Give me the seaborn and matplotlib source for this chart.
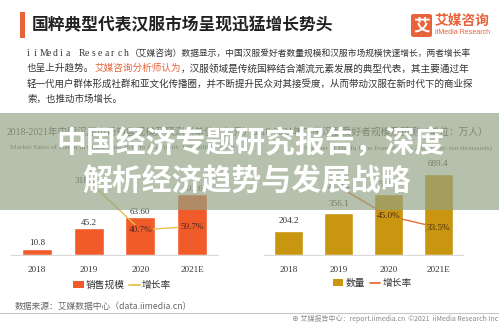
import matplotlib
matplotlib.use("Agg")
import matplotlib.pyplot as plt
import seaborn as sns
from matplotlib.patches import Rectangle, Patch, FancyBboxPatch
from matplotlib.lines import Line2D

# ---------------- data ----------------
years = ["2018", "2019", "2020", "2021E"]
sales = [10.8, 45.2, 63.6, 101.6]
sales_text = ["10.8", "45.2", "63.60", "101.6"]
sales_growth = [318.5, 40.7, 59.7]          # 2019..2021E
fans = [204.2, 356.1, 516.3, 689.4]
fans_text = ["204.2", "356.1", "516.3", "689.4"]
fans_growth = [74.4, 45.0, 33.5]            # 2019..2021E
growth_years = [1, 2, 3]

header_title = "国粹典型代表汉服市场呈现迅猛增长势头"
para_lines = [
    "（艾媒咨询）数据显示，中国汉服爱好者数量规模和汉服市场规模快速增长，两者增长率",
    "汉服领域是传统国粹结合潮流元素发展的典型代表，其主要通过年",
    "轻一代用户群体形成社群和亚文化传播圈，并不断提升民众对其接受度，从而带动汉服在新时代下的商业探",
    "索，也推动市场增长。",
]
left_title = "2018-2021年中国汉服市场销售规模及预测（单位：亿元）"
left_sub = "Market Sales of Hanfu in China from 2018 to 2021 (unit: 100 million yuan)"
right_title = "2018-2021年中国汉服爱好者规模及预测（单位：万人）"
right_sub = "Number of Hanfu Fans from 2018 to 2021 (unit: ten thousands)"
banner = ["中国经济专题研究报告，深度", "解析经济趋势与发展战略"]

# ---------------- style ----------------
sns.set_theme(style="white")
CJK = ["Noto Sans CJK SC", "DejaVu Sans"]
SERIF = ["Liberation Serif", "Noto Sans CJK SC"]
plt.rcParams["font.family"] = CJK

ORANGE = "#f15a29"
GOLD_LINE = "#e6c14c"
GOLD_BAR = "#c9960f"
RED_LINE = "#e07038"
BRAND = "#e8623a"

W, H = 499, 324
fig = plt.figure(figsize=(W / 100, H / 100), dpi=100)
fig.patch.set_facecolor("white")
rend = fig.canvas.get_renderer()


def fx(x):
    return x / W


def fy(y):
    return 1 - y / H


def px_axes(x0, y0, x1, y1):
    return fig.add_axes([fx(x0), fy(y1), (x1 - x0) / W, (y1 - y0) / H])


def fit_text(x0, x1, y, s, fs, **kw):
    t = fig.text(fx(x0), fy(y), s, fontsize=fs, va="center", ha="left", **kw)
    w = t.get_window_extent(renderer=rend).width
    t.set_fontsize(fs * (x1 - x0) / w)
    return t


# ---------------- header ----------------
fig.patches.append(Rectangle((fx(20), fy(38)), 5 / W, 26 / H, transform=fig.transFigure,
                             facecolor=BRAND, edgecolor="none"))
fit_text(32, 333, 25, header_title, 12, color="#222222", family=CJK, weight="bold")

# logo
fig.patches.append(FancyBboxPatch((fx(411), fy(37)), 21 / W, 23 / H, transform=fig.transFigure,
                                  boxstyle="round,pad=0,rounding_size=0.006",
                                  facecolor=BRAND, edgecolor="none"))
fig.text(fx(421.5), fy(25.5), "艾", fontsize=12, color="white", weight="bold",
         ha="center", va="center", family=CJK)
fit_text(435, 490, 21, "艾媒咨询", 9.8, color=BRAND, weight="bold", family=CJK)
fit_text(435, 490, 32.5, "iiMedia Research", 4.9, color=BRAND, family=["Liberation Sans"])

# paragraph
PFS = 6.9
PCOL = "#333333"
brand_word = "iiMedia Research"
for i, ch in enumerate(brand_word):
    fig.text(fx(27 + i * 6.45), fy(53), ch, fontsize=PFS, color=PCOL, va="center",
             ha="left", family=SERIF)
fit_text(130, 472, 53, para_lines[0], PFS, color=PCOL)
# line 2 with coloured segment (fit total width first)
probe = fig.text(0, 0, "也呈上升趋势。艾媒咨询分析师认为，" + para_lines[1], fontsize=PFS)
fs2 = PFS * (472 - 27) / probe.get_window_extent(renderer=rend).width
probe.remove()
segs = [("也呈上升趋势。", PCOL), ("艾媒咨询分析师认为", BRAND), ("，" + para_lines[1], PCOL)]
xcur = 27
for s, c in segs:
    t = fig.text(fx(xcur), fy(68.5), s, fontsize=fs2, color=c, va="center", ha="left")
    xcur += t.get_window_extent(renderer=rend).width
t3 = fit_text(27, 475, 84, para_lines[2], PFS, color=PCOL)
fig.text(fx(27), fy(99.5), para_lines[3], fontsize=t3.get_fontsize(), color=PCOL,
         va="center", ha="left")

# chart titles (under the banner)
fig.text(fx(7), fy(132), left_title, fontsize=7, color="#555555", va="center", ha="left",
         family=SERIF)
fig.text(fx(10), fy(147), left_sub, fontsize=5.3, color="#666666", va="center", ha="left",
         family=SERIF)
fig.text(fx(488), fy(132), right_title, fontsize=7, color="#555555", va="center", ha="right",
         family=SERIF)
fig.text(fx(492), fy(148), right_sub, fontsize=5.3, color="#666666", va="center", ha="right",
         family=SERIF)


# ---------------- charts ----------------
def draw_chart(x0, x1, values, vtexts, vcolor, ymax, vpad, growth, gcolor, glim, lcolor):
    ax = px_axes(x0, 165, x1, 255)
    sns.barplot(x=years, y=values, ax=ax, color=vcolor, saturation=1, width=0.58)
    ax.set_xlim(-0.5, 3.5)
    ax.set_ylim(0, ymax)
    ax.set_yticks([])
    ax.set_xlabel("")
    ax.set_ylabel("")
    for s in ["top", "left", "right"]:
        ax.spines[s].set_visible(False)
    ax.spines["bottom"].set_color("#d9d9d9")
    ax.spines["bottom"].set_linewidth(0.8)
    ax.tick_params(axis="x", length=0, pad=8, labelsize=6.6, labelcolor="#333333")
    for lab in ax.get_xticklabels():
        lab.set_family(SERIF)
    ax.patch.set_alpha(0)
    for i, (v, t) in enumerate(zip(values, vtexts)):
        ax.annotate(t, (i, v), xytext=(0, vpad), textcoords="offset points", ha="center",
                    va="bottom", fontsize=6.6, color="#333333", family=SERIF)
    ax2 = ax.twinx()
    sns.lineplot(x=growth_years, y=growth, ax=ax2, color=gcolor, linewidth=1.0)
    ax2.set_ylim(*glim)
    ax2.set_xlim(-0.5, 3.5)
    ax2.set_yticks([])
    ax2.set_ylabel("")
    for s in ax2.spines.values():
        s.set_visible(False)
    for k, (xi, g) in enumerate(zip(growth_years, growth)):
        inside = k > 0
        ax2.text(xi, g, f"{g:.1f}%", ha="center", va="center", fontsize=6.6,
                 color=lcolor if inside else "#333333", family=SERIF,
                 bbox=dict(facecolor=vcolor if inside else "white", edgecolor="none", pad=0.6))
    return ax


draw_chart(11, 218, sales, sales_text, ORANGE, 150, 0.8, sales_growth, GOLD_LINE,
           (-102, 409), "#4a2a1a")
draw_chart(264, 463, fans, fans_text, GOLD_BAR, 766, 4.0, fans_growth, RED_LINE,
           (6, 96), "#4a2a1a")

# legends
fig.legend(handles=[Patch(facecolor=ORANGE, edgecolor="none"),
                    Line2D([], [], color=GOLD_LINE, lw=1.3)],
           labels=["销售规模", "增长率"], loc="center", bbox_to_anchor=(fx(122), fy(285)),
           ncol=2, frameon=False, fontsize=7, handlelength=1.1, handleheight=0.7,
           handletextpad=0.2, columnspacing=0.5, labelcolor="#333333")
fig.legend(handles=[Patch(facecolor=GOLD_BAR, edgecolor="none"),
                    Line2D([], [], color=RED_LINE, lw=1.3)],
           labels=["数量", "增长率"], loc="center", bbox_to_anchor=(fx(372), fy(283)),
           ncol=2, frameon=False, fontsize=7, handlelength=1.1, handleheight=0.7,
           handletextpad=0.2, columnspacing=0.5, labelcolor="#333333")

# footer
fig.text(fx(15), fy(306), "数据来源：艾媒数据中心（data.iimedia.cn）", fontsize=6.3,
         color="#666666", va="center", ha="left", family=CJK)
fig.lines.append(Line2D([0, 1], [fy(313), fy(313)], transform=fig.transFigure,
                        color="#c8c8c8", lw=0.8))
fig.text(fx(292), fy(318.5), "⊕ 艾媒报告中心：report.iimedia.cn  ©2021  iiMedia Research Inc",
         fontsize=5, color="#8a8a8a", va="center", ha="left", family=CJK)

# ---------------- banner overlay ----------------
fig.patches.append(Rectangle((0, fy(210)), 1, 97 / H, transform=fig.transFigure,
                             facecolor="#92a385", edgecolor="none", alpha=0.67, zorder=10))
fig.text(fx(251), fy(143), banner[0], fontsize=21.5, color="white", weight="bold",
         ha="center", va="center", family=CJK, zorder=11)
fig.text(fx(247), fy(181), banner[1], fontsize=21.5, color="white", weight="bold",
         ha="center", va="center", family=CJK, zorder=11)

fig.savefig("out.png", dpi=100, facecolor="white")
